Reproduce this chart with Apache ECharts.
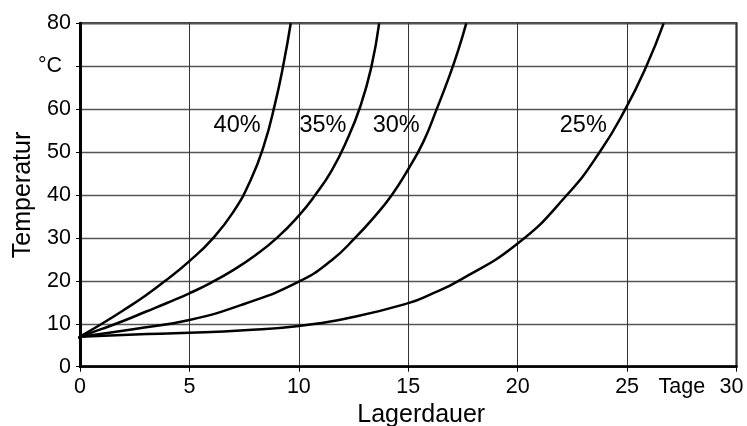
<!DOCTYPE html>
<html>
<head>
<meta charset="utf-8">
<script src="https://cdn.jsdelivr.net/npm/echarts@6/dist/echarts.min.js"></script>
<style>
html,body{margin:0;padding:0;background:#fff;}
#c{width:747px;height:426px;}
</style>
</head>
<body>
<div id="c"></div>
<script>
// Curve data (Lagerdauer in Tage, Temperatur in °C)
const x40 = [-0.35, 0, 1, 2, 3, 4, 5, 6, 7, 7.8, 8.4, 8.9, 9.3, 9.63];
const y40 = [5.9, 7, 10, 13.2, 16.6, 20.4, 24.6, 29.5, 36, 43.5, 51.5, 61, 70.5, 80];
const x35 = [0, 1, 2, 3, 4, 5, 6, 7, 8, 9, 10, 10.75, 11.5, 12.2, 12.8, 13.3, 13.67];
const y35 = [7, 8.8, 10.7, 12.8, 14.9, 17.1, 19.6, 22.5, 25.9, 30, 35.2, 40, 45.7, 52.8, 60.5, 69.5, 80];
const x30 = [0, 2.5, 5, 7.5, 10, 11.5, 12.57, 13.5, 14.25, 15, 15.7, 16.3, 16.9, 17.3, 17.65];
const y30 = [7, 8.8, 10.9, 14.6, 19.8, 24.8, 30, 35.2, 40, 46, 52.5, 60, 68, 74, 80];
const x25 = [0, 2.5, 5, 7.5, 10, 12.5, 15, 16, 17.3, 20, 22.25, 23.75, 24.92, 25.88, 26.67];
const y25 = [7, 7.5, 7.9, 8.5, 9.5, 11.6, 14.8, 16.8, 20, 28.7, 40, 50, 60, 70, 80];

// Curve labels
const curveNames = ['40%', '35%', '30%', '25%'];
const labelX = [7.18, 11.1, 14.45, 23.0];
const labelY = [56.3, 56.3, 56.3, 56.3];

// Axis labels
const xTickValues = [0, 5, 10, 15, 20, 25, 30];
const xLabelValues = [0, 5, 10, 15, 20, 25, 27.5, 30];
const xUnitValue = 27.5;
const xUnitText = 'Tage';
const xLastValue = 30;
const yUnitValue = 70;
const yUnitText = '°C';

const zip = (xs, ys) => xs.map((x, i) => [x, ys[i]]);
const FONT = 'Liberation Sans, Arial, sans-serif';

const lineSeries = (xs, ys) => ({
  type: 'line',
  data: zip(xs, ys),
  symbol: 'none',
  smooth: 0.5,
  clip: false,
  lineStyle: { color: '#000', width: 2.5 },
  z: 5
});

const chart = echarts.init(document.getElementById('c'), null, { renderer: 'canvas' });
chart.setOption({
  animation: false,
  backgroundColor: '#fff',
  grid: {
    left: 80, right: 10.5, top: 23.3, bottom: 59.3,
    containLabel: false, outerBoundsMode: 'none',
    show: true, borderColor: '#000', borderWidth: 2, backgroundColor: 'transparent'
  },
  xAxis: {
    type: 'value', min: 0, max: 30, interval: 5,
    name: 'Lagerdauer', nameLocation: 'middle', nameGap: 36, nameMoveOverlap: false,
    nameTextStyle: { fontFamily: FONT, fontSize: 25, color: '#000', padding: [0, 0, 0, 26] },
    axisLine: { show: true, onZero: false, lineStyle: { color: '#000', width: 2.5 } },
    axisTick: { show: true, length: 5, inside: false, customValues: xTickValues, lineStyle: { color: '#000', width: 1 } },
    axisLabel: {
      customValues: xLabelValues,
      margin: 9, fontFamily: FONT, fontSize: 21.5, color: '#000',
      formatter: v => (v === xUnitValue ? xUnitText : (v === xLastValue ? '{r|' + v + '}' : String(v))),
      rich: { r: { fontFamily: FONT, fontSize: 21.5, color: '#000', padding: [0, 10, 0, 0] } }
    },
    splitLine: { show: true, lineStyle: { color: '#333', width: 1 } }
  },
  yAxis: {
    type: 'value', min: 0, max: 80, interval: 10,
    name: 'Temperatur', nameLocation: 'middle', nameGap: 44, nameRotate: 90, nameMoveOverlap: false,
    nameTextStyle: { fontFamily: FONT, fontSize: 25, color: '#000' },
    axisLine: { show: true, onZero: false, lineStyle: { color: '#000', width: 3 } },
    axisTick: { show: true, length: 4, inside: false, lineStyle: { color: '#000', width: 1 } },
    axisLabel: {
      margin: 9, fontFamily: FONT, fontSize: 21.5, color: '#000',
      formatter: v => (v === yUnitValue ? '{u|' + yUnitText + '}' : String(v)),
      rich: { u: { fontFamily: FONT, fontSize: 21.5, color: '#000', padding: [0, 9, 0, 0] } }
    },
    splitLine: { show: true, lineStyle: { color: '#555', width: 1.4 } }
  },
  series: [
    lineSeries(x40, y40),
    lineSeries(x35, y35),
    lineSeries(x30, y30),
    lineSeries(x25, y25),
    {
      type: 'scatter',
      data: labelX.map((x, i) => [x, labelY[i]]),
      symbolSize: 0,
      silent: true,
      z: 6,
      itemStyle: { opacity: 1, color: '#000' },
      label: {
        show: true, position: 'inside',
        formatter: p => curveNames[p.dataIndex],
        fontFamily: FONT, fontSize: 23.5, color: '#000', opacity: 1
      }
    }
  ]
});
</script>
</body>
</html>
